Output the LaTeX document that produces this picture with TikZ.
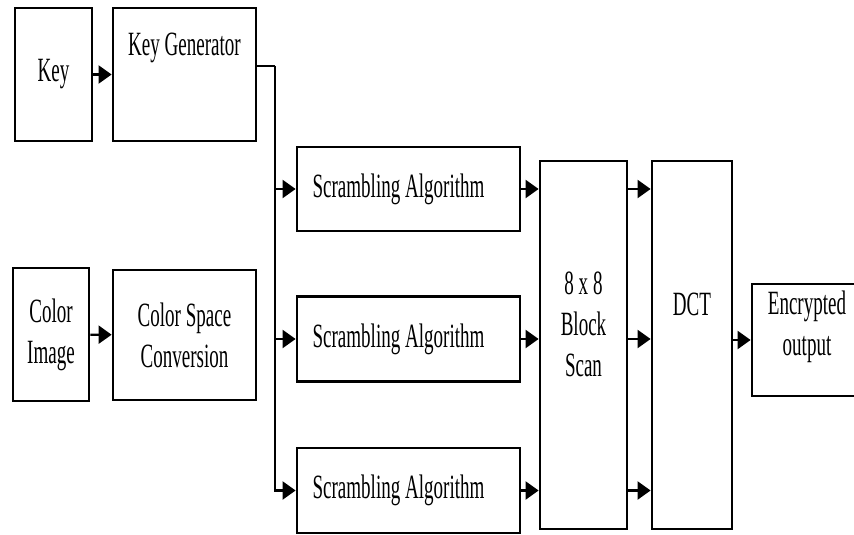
\documentclass[tikz,border=0pt]{standalone}
\usepackage{fontspec}
\setmainfont{Liberation Serif}[FakeStretch=0.56]
\usetikzlibrary{arrows.meta}
\begin{document}
\begin{tikzpicture}[x=1pt,y=-1pt,
	txt/.style={font=\fontsize{34}{41}\selectfont,align=center,inner sep=0pt},
	blk/.style={txt,draw,line width=2.8pt},
	arr/.style={line width=2.2pt,-{Triangle[length=13pt,width=18pt]}},
	wire/.style={line width=2.2pt}]
			\useasboundingbox (0,0) rectangle (854,535);
			\clip (0,0) rectangle (854,535);
			
			\node[blk,minimum width=77,minimum height=133] (key) at (53.5,74.5) {Key};
			\node[blk,minimum width=143,minimum height=133] (kgen) at (184.5,74.5) {};
			\node[txt] (kgentxt) at (184.5,48) {Key Generator};
			
			\node[blk,minimum width=76,minimum height=133] (cimg) at (51,334.5) {Color\\Image};
			\node[blk,minimum width=143,minimum height=130] (csc) at (184.5,335) {Color Space\\Conversion};
			
			\node[blk,minimum width=223,minimum height=84] (s1) at (408.5,189) {Scrambling Algorithm\hspace{20pt}};
			\node[blk,minimum width=223,minimum height=85] (s2) at (408.5,339) {Scrambling Algorithm\hspace{20pt}};
			\node[blk,minimum width=223,minimum height=85] (s3) at (408.5,490.5) {Scrambling Algorithm\hspace{20pt}};
			
			\node[blk,minimum width=87,minimum height=368] (bscan) at (583.5,345) {};
			\node[txt] (bscantxt) at (583.5,324) {8 x 8\\Block\\Scan};
			\node[blk,minimum width=80,minimum height=368] (dct) at (692,345) {};
			\node[txt] (dcttxt) at (692,304) {DCT};
			
			\node[blk,minimum width=110,minimum height=112] (out) at (807,340) {};
			\node[txt] (outtxt) at (807,327) {Encrypted\\output};
			
			\coordinate (j0) at (275,66);
			
			\draw[arr] (key) -- (kgen);
			\draw[arr] (cimg) -- (csc);
			\draw[wire] (kgen.east |- j0) -- (j0);
			\draw[arr] (j0) |- (s3.west);
			\draw[arr] (j0 |- s1) -- (s1.west);
			\draw[arr] (j0 |- s2) -- (s2.west);
			\draw[arr] (s1.east) -- (s1.east -| bscan.west);
			\draw[arr] (s2.east) -- (s2.east -| bscan.west);
			\draw[arr] (s3.east) -- (s3.east -| bscan.west);
			\draw[arr] (bscan.east |- s1) -- (dct.west |- s1);
			\draw[arr] (bscan.east |- s2) -- (dct.west |- s2);
			\draw[arr] (bscan.east |- s3) -- (dct.west |- s3);
			\draw[arr] (dct.east |- out) -- (out.west);
		\end{tikzpicture}
\end{document}
